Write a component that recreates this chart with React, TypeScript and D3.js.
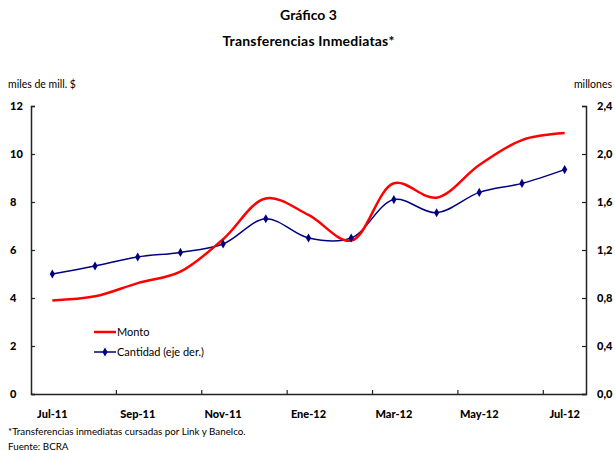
import React, { useEffect, useRef } from "react";
import * as d3 from "d3";

const months = [
  "Jul-11", "Ago-11", "Sep-11", "Oct-11", "Nov-11", "Dic-11", "Ene-12",
  "Feb-12", "Mar-12", "Abr-12", "May-12", "Jun-12", "Jul-12",
];
const shownLabels = ["Jul-11", "Sep-11", "Nov-11", "Ene-12", "Mar-12", "May-12", "Jul-12"];
// Monto, miles de millones de $ (left axis)
const monto = [3.9, 4.07, 4.62, 5.1, 6.45, 8.15, 7.46, 6.39, 8.78, 8.18, 9.54, 10.58, 10.87];
// Cantidad, millones (right axis)
const cantidad = [1.0, 1.067, 1.142, 1.18, 1.25, 1.46, 1.3, 1.3, 1.62, 1.51, 1.68, 1.755, 1.87];
const leftTicks = [0, 2, 4, 6, 8, 10, 12];
const rightTicks = [0, 0.4, 0.8, 1.2, 1.6, 2.0, 2.4];

const W = 615;
const H = 451;
const FONT = "Lato, 'DejaVu Sans', sans-serif";

export default function App() {
  const ref = useRef<SVGSVGElement | null>(null);

  useEffect(() => {
    if (!ref.current) return;
    const svg = d3.select(ref.current);
    svg.selectAll("*").remove();

    const margin = { left: 31, right: 29, top: 106, bottom: 57 };
    const x0 = margin.left;
    const x1 = W - margin.right;
    const yBottom = H - margin.bottom;

    const x = d3.scaleBand<string>().domain(months).range([x0, x1]);
    const yL = d3.scaleLinear().domain([0, 12]).range([yBottom, margin.top]);
    const yR = d3.scaleLinear().domain([0, 2.4]).range([yBottom, margin.top]);
    const cx = (i: number) => (x(months[i]) as number) + x.bandwidth() / 2;

    // titles
    svg.append("text").attr("x", W / 2 + 1).attr("y", 20).attr("text-anchor", "middle")
      .attr("font-family", FONT).attr("font-weight", "bold").attr("font-size", 14)
      .text("Gráfico 3");
    svg.append("text").attr("x", W / 2 + 1).attr("y", 46).attr("text-anchor", "middle")
      .attr("font-family", FONT).attr("font-weight", "bold").attr("font-size", 14)
      .attr("letter-spacing", 0.2)
      .text("Transferencias Inmediatas*");

    svg.append("text").attr("x", 8).attr("y", 88)
      .attr("font-family", FONT).attr("font-size", 10.5).text("miles de mill. $");
    svg.append("text").attr("x", 612).attr("y", 88).attr("text-anchor", "end")
      .attr("font-family", FONT).attr("font-size", 10.5).text("millones");

    // left axis
    const left = svg.append("g").attr("transform", `translate(${x0},0)`)
      .call(d3.axisLeft(yL).tickValues(leftTicks).tickSize(-4).tickPadding(14).tickFormat(d3.format("d")));
    // right axis
    const right = svg.append("g").attr("transform", `translate(${x1},0)`)
      .call(d3.axisRight(yR).tickValues(rightTicks).tickSize(-4).tickPadding(11)
        .tickFormat((d) => d3.format(".1f")(d as number).replace(".", ",")));
    // bottom axis
    const bottom = svg.append("g").attr("transform", `translate(0,${yBottom})`)
      .call(d3.axisBottom(x).tickSize(0).tickPadding(16)
        .tickFormat((d) => (shownLabels.includes(d) ? d : "")));

    [left, right, bottom].forEach((g) => {
      g.select(".domain").attr("stroke", "#222").attr("stroke-width", 1.5);
      g.selectAll(".tick line").attr("stroke", "#222").attr("stroke-width", 1.2);
      g.selectAll("text").attr("font-family", FONT).attr("font-weight", "900")
        .attr("font-size", 11).attr("fill", "#000");
    });
    left.selectAll("text").attr("text-anchor", "start").attr("x", -x0 + 10);

    // category boundary ticks on x axis, every 2 months
    const bTicks = [2, 4, 6, 8, 10, 12].map((i) => x(months[i]) as number);
    svg.append("g").selectAll("line").data(bTicks).enter().append("line")
      .attr("x1", (d) => d).attr("x2", (d) => d)
      .attr("y1", yBottom).attr("y2", yBottom - 4)
      .attr("stroke", "#222").attr("stroke-width", 1.2);

    // lines
    const lineL = d3.line<number>().x((_, i) => cx(i)).y((d) => yL(d)).curve(d3.curveCatmullRom.alpha(0.5));
    const lineR = d3.line<number>().x((_, i) => cx(i)).y((d) => yR(d)).curve(d3.curveCatmullRom.alpha(0.5));

    svg.append("path").datum(cantidad).attr("d", lineR).attr("fill", "none")
      .attr("stroke", "#000080").attr("stroke-width", 1.5);
    svg.append("path").datum(monto).attr("d", lineL).attr("fill", "none")
      .attr("stroke", "#ff0000").attr("stroke-width", 2.5);

    const diamond = d3.symbol().type(d3.symbolDiamond).size(24);
    svg.append("g").selectAll("path").data(cantidad).enter().append("path")
      .attr("d", diamond)
      .attr("transform", (d, i) => `translate(${cx(i)},${yR(d)})`)
      .attr("fill", "#000080");

    // legend
    const lg = svg.append("g").attr("font-family", FONT).attr("font-size", 11);
    lg.append("line").attr("x1", 94).attr("x2", 116).attr("y1", 332).attr("y2", 332)
      .attr("stroke", "#ff0000").attr("stroke-width", 2.5);
    lg.append("text").attr("x", 117).attr("y", 336).text("Monto");
    lg.append("line").attr("x1", 94).attr("x2", 116).attr("y1", 352).attr("y2", 352)
      .attr("stroke", "#000080").attr("stroke-width", 1.5);
    lg.append("path").attr("d", diamond).attr("transform", "translate(105,352)").attr("fill", "#000080");
    lg.append("text").attr("x", 117).attr("y", 356).text("Cantidad (eje der.)");

    // footnotes
    svg.append("text").attr("x", 8).attr("y", 435).attr("font-family", FONT).attr("font-size", 9.8)
      .text("*Transferencias inmediatas cursadas por Link y Banelco.");
    svg.append("text").attr("x", 8).attr("y", 450).attr("font-family", FONT).attr("font-size", 9.8)
      .text("Fuente: BCRA");
  }, []);

  return (
    <svg ref={ref} width={W} height={H}
      style={{ position: "absolute", left: 0, top: 0, background: "#fff" }} />
  );
}
